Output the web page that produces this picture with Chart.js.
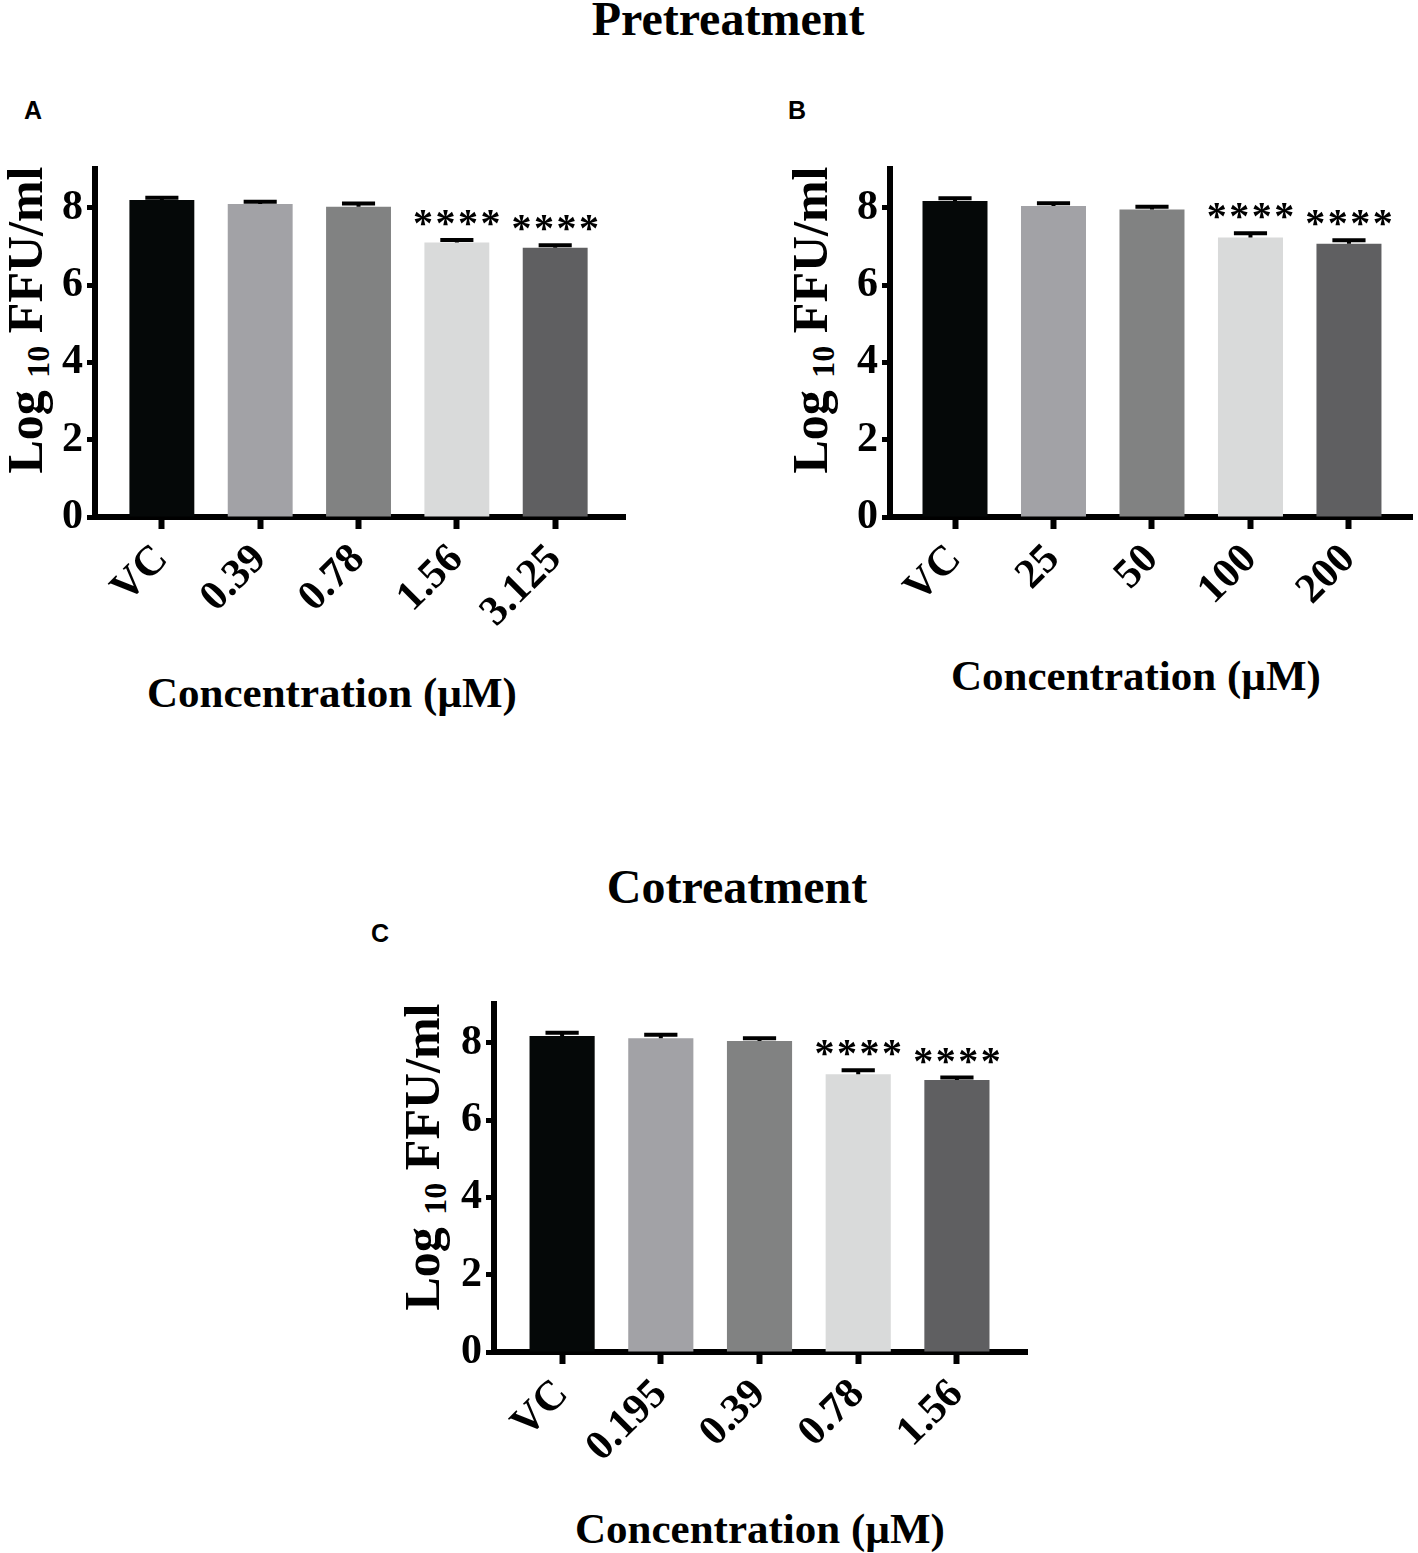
<!DOCTYPE html>
<html>
<head>
<meta charset="utf-8">
<script src="https://cdn.jsdelivr.net/npm/chart.js@4.4.1/dist/chart.umd.min.js"></script>
<style>
body{margin:0;background:#fff;width:1418px;height:1553px;position:relative;overflow:hidden;font-family:"Liberation Serif","Times New Roman",serif;}
.t{position:absolute;font-weight:bold;white-space:nowrap;transform:translate(-50%,-50%);line-height:1;color:#000}
.big{font-size:48px}
.lab{font-family:"Liberation Sans",Arial,sans-serif;font-size:25px}
.xt{font-size:43px}
.yt{font-size:50px;transform:translate(-50%,-50%) rotate(-90deg)}
.yt sub{font-size:32px;vertical-align:baseline;position:relative;top:0.22em}
canvas{position:absolute}
</style>
</head>
<body>
<div class="t big" style="left:728px;top:19px">Pretreatment</div>
<div class="t big" style="left:737px;top:887px">Cotreatment</div>
<div class="t lab" style="left:33px;top:110px">A</div>
<div class="t lab" style="left:797px;top:110px">B</div>
<div class="t lab" style="left:380px;top:933px">C</div>

<div class="t yt" style="left:25px;top:320px">Log <sub>10</sub> FFU/ml</div>
<div class="t yt" style="left:810px;top:320px">Log <sub>10</sub> FFU/ml</div>
<div class="t yt" style="left:422px;top:1157px">Log <sub>10</sub> FFU/ml</div>

<div class="t xt" style="left:332px;top:692px">Concentration (µM)</div>
<div class="t xt" style="left:1136px;top:675px">Concentration (µM)</div>
<div class="t xt" style="left:760px;top:1528px">Concentration (µM)</div>

<canvas id="chartA" width="700" height="640" style="left:0px;top:140px"></canvas>
<canvas id="chartB" width="628" height="640" style="left:790px;top:140px"></canvas>
<canvas id="chartC" width="640" height="560" style="left:440px;top:975px"></canvas>

<script>
// bar colours, same order in every panel
const barColors = ['#050808', '#a2a2a6', '#818282', '#d9dada', '#5f5f61'];

// A - pretreatment
const labelsA = ['VC', '0.39', '0.78', '1.56', '3.125'];
const meansA = [8.20, 8.10, 8.03, 7.10, 6.97];
const errA = [0.06, 0.06, 0.08, 0.07, 0.06];
const sigA = ['', '', '', '****', '****'];

// B - pretreatment
const labelsB = ['VC', '25', '50', '100', '200'];
const meansB = [8.18, 8.05, 7.96, 7.23, 7.07];
const errB = [0.07, 0.07, 0.07, 0.11, 0.09];
const sigB = ['', '', '', '****', '****'];

// C - cotreatment
const labelsC = ['VC', '0.195', '0.39', '0.78', '1.56'];
const meansC = [8.18, 8.12, 8.05, 7.19, 7.04];
const errC = [0.08, 0.09, 0.07, 0.10, 0.06];
const sigC = ['', '', '', '****', '****'];

const yTicks = [0, 1, 2, 3, 4, 5, 6, 7, 8, 9];

const errorBars = {
  id: 'errs',
  afterDatasetsDraw(chart) {
    const opts = chart.options.plugins.errs;
    const ctx = chart.ctx;
    const y = chart.scales.y;
    const meta = chart.getDatasetMeta(0);
    ctx.save();
    meta.data.forEach((bar, i) => {
      const top = y.getPixelForValue(opts.means[i]);
      const cap = y.getPixelForValue(opts.means[i] + opts.errors[i]);
      const half = bar.width * 0.255;
      ctx.strokeStyle = '#000';
      ctx.lineWidth = 4;
      ctx.beginPath();
      ctx.moveTo(bar.x, top);
      ctx.lineTo(bar.x, cap);
      ctx.moveTo(bar.x - half, cap);
      ctx.lineTo(bar.x + half, cap);
      ctx.stroke();
      if (opts.sig[i]) {
        ctx.fillStyle = '#000';
        ctx.font = 'bold 40px "Liberation Serif"';
        ctx.textAlign = 'center';
        ctx.textBaseline = 'alphabetic';
        const m = ctx.measureText('*');
        const mid = (m.actualBoundingBoxAscent - m.actualBoundingBoxDescent) / 2;
        const n = opts.sig[i].length;
        for (let k = 0; k < n; k++) {
          ctx.fillText('*', bar.x + (k - (n - 1) / 2) * 22.5, cap - 22 + mid);
        }
      }
    });
    ctx.restore();
  }
};

function drawPanel(id, labels, means, errors, sig, g) {
  const ctx = document.getElementById(id);
  new Chart(ctx, {
    type: 'bar',
    data: {
      datasets: [{
        data: means.map((v, i) => ({x: i, y: v})),
        backgroundColor: barColors,
        borderWidth: 0,
        categoryPercentage: 1,
        barPercentage: 0.66
      }]
    },
    options: {
      responsive: false,
      animation: false,
      layout: {padding: {left: 0, right: g.padRight, top: g.padTop, bottom: 0}},
      plugins: {
        legend: {display: false},
        tooltip: {enabled: false},
        errs: {means: means, errors: errors, sig: sig}
      },
      scales: {
        x: {
          type: 'linear',
          min: g.xmin,
          max: g.xmax,
          offset: false,
          z: 1,
          afterBuildTicks: s => { s.ticks = labels.map((l, i) => ({value: i})); },
          afterFit: s => { s.height = g.xHeight; },
          grid: {offset: false, drawOnChartArea: false, tickLength: 12, tickWidth: 6, tickColor: '#000'},
          border: {color: '#000', width: 6},
          ticks: {
            callback: v => labels[v],
            minRotation: 45,
            maxRotation: 45,
            autoSkip: false,
            padding: 6,
            color: '#000',
            font: {family: '"Liberation Serif"', size: 42, weight: 'bold'}
          }
        },
        y: {
          min: 0,
          max: 9,
          z: 1,
          afterBuildTicks: s => { s.ticks = yTicks.map(v => ({value: v})); },
          afterFit: s => { s.width = g.yWidth; },
          grid: {drawOnChartArea: false, tickLength: 8, tickWidth: 5, tickColor: '#000'},
          border: {color: '#000', width: 6},
          ticks: {
            callback: v => (v % 2 === 0 ? v : ''),
            padding: 4,
            color: '#000',
            font: {family: '"Liberation Serif"', size: 42, weight: 'bold'}
          }
        }
      }
    },
    plugins: [errorBars]
  });
}

drawPanel('chartA', labelsA, meansA, errA, sigA,
  {yWidth: 95, padRight: 75, padTop: 27, xHeight: 263, xmin: -0.68, xmax: 4.71});
drawPanel('chartB', labelsB, meansB, errB, sigB,
  {yWidth: 100, padRight: 6, padTop: 27, xHeight: 263, xmin: -0.66, xmax: 4.64});
drawPanel('chartC', labelsC, meansC, errC, sigC,
  {yWidth: 54, padRight: 53, padTop: 29, xHeight: 183, xmin: -0.69, xmax: 4.71});
</script>
</body>
</html>
